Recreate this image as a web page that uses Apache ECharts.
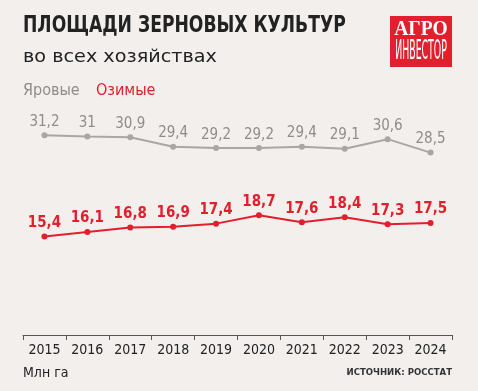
<!DOCTYPE html>
<html><head><meta charset="utf-8">
<script src="https://cdn.jsdelivr.net/npm/echarts@6/dist/echarts.min.js"></script>
<style>html,body{margin:0;padding:0;background:#f2efec}#c{width:478px;height:391px}</style>
</head><body><div id="c"></div>
<script>
const years = ['2015','2016','2017','2018','2019','2020','2021','2022','2023','2024'];
const spring = [31.2,31,30.9,29.4,29.2,29.2,29.4,29.1,30.6,28.5];
const winter = [15.4,16.1,16.8,16.9,17.4,18.7,17.6,18.4,17.3,17.5];
const NARROW = "'Liberation Sans Narrow','DejaVu Sans Condensed',sans-serif";
const GREY = '#a9a7a4', GREYT = '#8f8c89', RED = '#e11f2d';
const fmt = p => String(p.value).replace('.', ',');
const chart = echarts.init(document.getElementById('c'));
chart.setOption({
  backgroundColor: '#f2efec',
  animation: false,
  grid: {left: 23, right: 26, top: 79, bottom: 56},
  xAxis: {
    type: 'category', data: years, boundaryGap: true,
    axisLine: {lineStyle: {color: '#555', width: 1}},
    axisTick: {show: true, length: 5, inside: false, lineStyle: {color: '#555'}},
    axisLabel: {color: '#222', fontSize: 14, fontFamily: NARROW, margin: 8}
  },
  yAxis: {type: 'value', min: 0, max: 40, show: false, splitLine: {show: false}},
  series: [
    {name: 'Яровые', type: 'line', data: spring, symbol: 'circle', symbolSize: 6,
     lineStyle: {color: GREY, width: 2}, itemStyle: {color: GREY},
     label: {show: true, position: 'top', distance: 3, formatter: fmt, color: GREYT, fontSize: 15, fontFamily: NARROW}},
    {name: 'Озимые', type: 'line', data: winter, symbol: 'circle', symbolSize: 6,
     lineStyle: {color: RED, width: 2}, itemStyle: {color: RED},
     label: {show: true, position: 'top', distance: 3, formatter: fmt, color: RED, fontSize: 15, fontWeight: 'bold', fontFamily: NARROW}}
  ],
  graphic: [
    {type: 'text', x: 23, y: 15, scaleX: 0.83, style: {text: 'ПЛОЩАДИ ЗЕРНОВЫХ КУЛЬТУР', fill: '#222', font: "bold 23px " + NARROW}},
    {type: 'text', x: 23, y: 49, scaleX: 1.13, style: {text: 'во всех хозяйствах', fill: '#222', font: "17px 'DejaVu Sans',sans-serif"}},
    {type: 'text', left: 23, top: 83, style: {text: 'Яровые', fill: GREYT, font: "16px " + NARROW}},
    {type: 'text', left: 96, top: 83, style: {text: 'Озимые', fill: RED, font: "16px " + NARROW}},
    {type: 'rect', shape: {x: 390, y: 16, width: 62, height: 51}, style: {fill: '#e11f2d'}},
    {type: 'text', x: 421, y: 30, scaleX: 0.93, style: {text: 'АГРО', fill: '#fff', font: "bold 21px 'Liberation Serif',serif", align: 'center', verticalAlign: 'middle'}},
    {type: 'text', x: 421, y: 52, scaleX: 0.4, style: {text: 'ИНВЕСТОР', fill: '#fff', font: "26px " + NARROW, align: 'center', verticalAlign: 'middle'}},
    {type: 'text', left: 23, top: 366, style: {text: 'Млн га', fill: '#222', font: "14px " + NARROW}},
    {type: 'text', right: 26, top: 368, style: {text: 'ИСТОЧНИК: РОССТАТ', fill: '#333', font: "bold 9.5px 'DejaVu Sans Condensed',sans-serif"}}
  ]
});
</script></body></html>
